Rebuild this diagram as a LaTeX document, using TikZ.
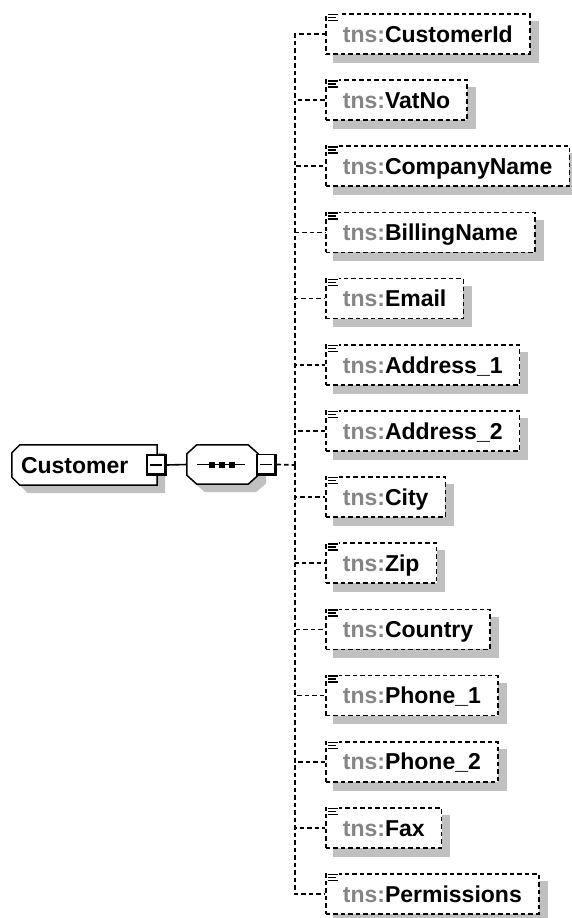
\documentclass[tikz,border=0pt]{standalone}
\usepackage{fontspec}
\setmainfont{Liberation Sans}
\usetikzlibrary{backgrounds}
\definecolor{shgray}{HTML}{C0C0C0}
\definecolor{tnsgray}{HTML}{858585}
\begin{document}
\begin{tikzpicture}[x=1pt,y=-1pt,
  font=\fontsize{23}{26}\selectfont\bfseries,
  elem/.style={draw, dash pattern=on 4.5pt off 3pt, line width=1.7pt, fill=white, anchor=west,
    minimum height=40pt, inner xsep=17pt, inner ysep=0pt, text height=16.5pt, text depth=0pt},
  conn/.style={line width=1.7pt, dash pattern=on 4.5pt off 3pt},
  solidconn/.style={line width=1.6pt},
  rootnode/.style={minimum width=145pt, minimum height=40pt, text width=127pt, align=left,
    inner xsep=9pt, inner ysep=0pt, text height=16.5pt, text depth=0pt},
  seqnode/.style={minimum width=71pt, minimum height=39pt, inner sep=0pt},
  minusbox/.style={draw, fill=white, line width=1.4pt, minimum width=19pt, minimum height=20pt, inner sep=0pt},
  icon/.style={line width=1.4pt}
]
\useasboundingbox (0,0) rectangle (571,918);

% root element
\node[rootnode] (cust) at (84.5,465) {Customer};
\begin{scope}[on background layer]
  \fill[shgray, transform canvas={shift={(8pt,-8pt)}}]
    ([xshift=8pt]cust.north west) -- (cust.north east) -- (cust.south east)
    -- ([xshift=8pt]cust.south west) -- ([yshift=8pt]cust.south west)
    -- ([yshift=-8pt]cust.north west) -- cycle;
  \draw[fill=white, line width=1.5pt]
    ([xshift=8pt]cust.north west) -- (cust.north east) -- (cust.south east)
    -- ([xshift=8pt]cust.south west) -- ([yshift=8pt]cust.south west)
    -- ([yshift=-8pt]cust.north west) -- cycle;
\end{scope}

% sequence compositor
\node[seqnode] (seq) at (222.5,464.5) {};
\begin{scope}[on background layer]
  \fill[shgray, transform canvas={shift={(8pt,-8pt)}}]
    ([xshift=10pt]seq.north west) -- ([xshift=-10pt]seq.north east) -- ([yshift=-9pt]seq.north east)
    -- ([yshift=9pt]seq.south east) -- ([xshift=-10pt]seq.south east) -- ([xshift=10pt]seq.south west)
    -- ([yshift=9pt]seq.south west) -- ([yshift=-9pt]seq.north west) -- cycle;
  \draw[fill=white, line width=1.5pt]
    ([xshift=10pt]seq.north west) -- ([xshift=-10pt]seq.north east) -- ([yshift=-9pt]seq.north east)
    -- ([yshift=9pt]seq.south east) -- ([xshift=-10pt]seq.south east) -- ([xshift=10pt]seq.south west)
    -- ([yshift=9pt]seq.south west) -- ([yshift=-9pt]seq.north west) -- cycle;
\end{scope}
\draw[solidconn] ([xshift=-25.5pt]seq.center) -- ([xshift=22.5pt]seq.center);
\foreach \dx in {-11,-1,9}
  \fill ([shift={(\dx pt-3pt,-3pt)}]seq.center) rectangle ([shift={(\dx pt+3pt,3pt)}]seq.center);

% minus boxes
\node[minusbox] (cm) at (156.5,465) {};
\node[minusbox] (sm) at (266.5,464.5) {};
\foreach \m in {cm,sm}{
  \draw[line width=3pt] ([xshift=-0.8pt]\m.north east) -- ([xshift=-0.8pt,yshift=0.8pt]\m.south east) -- ([yshift=0.8pt]\m.south west);
  \draw[line width=1.5pt] ([xshift=3.5pt]\m.west) -- ([xshift=-4.5pt]\m.east);
}

% connectors from root to compositor
\draw[solidconn] (cm.east) -- (seq.west);
\coordinate (fork) at (295,465);
\draw[conn] (sm.east) -- (fork);

% child elements
\foreach \n [count=\i from 0] in {CustomerId,VatNo,CompanyName,BillingName,Email,Address\_1,Address\_2,City,Zip,Country,Phone\_1,Phone\_2,Fax,Permissions}{
  \node[elem] (e\i) at (325,{34+66.15*\i}) {\textcolor{tnsgray}{tns:}\n};
  \begin{scope}[on background layer]
    \fill[shgray] ([shift={(8pt,-8pt)}]e\i.south west) rectangle ([shift={(8pt,-8pt)}]e\i.north east);
  \end{scope}
  \fill[white] ([shift={(1.5pt,0.8pt)}]e\i.north west) rectangle ([shift={(14pt,-9pt)}]e\i.north west);
  \draw[icon] ([shift={(3pt,-1.5pt)}]e\i.north west) -- ++(10pt,0pt);
  \draw[icon] ([shift={(3pt,-4.5pt)}]e\i.north west) -- ++(8pt,0pt);
  \draw[icon] ([shift={(3pt,-7.5pt)}]e\i.north west) -- ++(10pt,0pt);
  \draw[conn] (fork) |- (e\i.west);
}
\end{tikzpicture}
\end{document}
